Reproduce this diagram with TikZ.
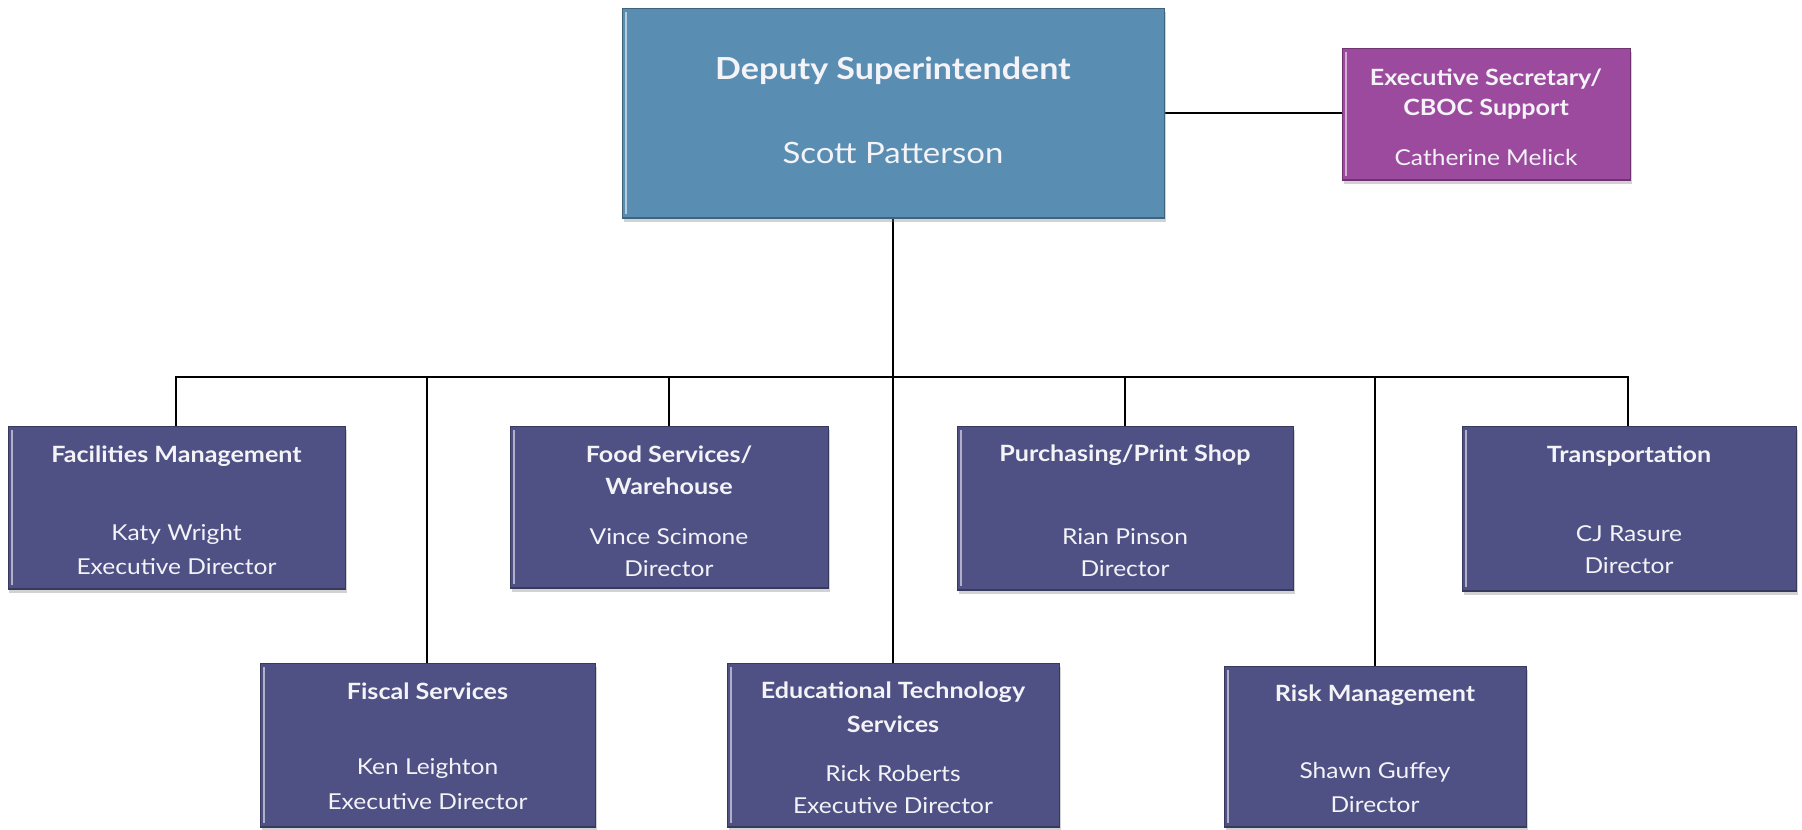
\documentclass[tikz,border=0pt]{standalone}
\usepackage{fontspec}
\setmainfont[FakeStretch=1.12]{Lato}
\usetikzlibrary{calc,shadows}
\definecolor{navy}{HTML}{4F5185}
\definecolor{steel}{HTML}{5A8DB2}
\definecolor{plum}{HTML}{9C4A9E}
\definecolor{txt}{HTML}{F3F3F8}
\tikzset{
  orgbox/.style={fill=#1, draw=#1!70!black, line width=0.8bp, inner sep=0pt,
    drop shadow={shadow xshift=1.5bp, shadow yshift=-4bp, opacity=0.35},
    path picture={
      \draw[line width=2.5bp, #1!45!white] ([xshift=4bp,yshift=-4bp]path picture bounding box.north west) -- ([xshift=4bp,yshift=4bp]path picture bounding box.south west);
      \draw[line width=3bp, #1!70!black] (path picture bounding box.south west) -- (path picture bounding box.south east);
    }},
  ttl/.style={text=txt, font=\bfseries\fontsize{22.5}{26}\selectfont, inner sep=0pt},
  nm/.style={text=txt, font=\fontsize{22}{26}\selectfont, inner sep=0pt},
  conn/.style={draw=black, line width=1.6bp},
}
\begin{document}
\begin{tikzpicture}[x=1bp,y=-1bp]
\useasboundingbox (0,0) rectangle (1802,830);
\fill[white] (0,0) rectangle (1802,830);

\coordinate (bus) at (893,377);

% connectors
\begin{scope}[conn]
\coordinate (depS) at (893,218);
\draw (depS) -- (bus);
\draw (176,426) |- (bus) -| (1628,426);
\draw (669,426) -- (669,377);
\draw (1125,426) -- (1125,377);
\draw (427,663) -- (427,377);
\draw (893,663) -- (893,377);
\draw (1375,666) -- (1375,377);
\draw (1164,113) -- (1342,113);
\end{scope}

% boxes
\node[orgbox=steel, minimum width=542bp, minimum height=210bp] (dep) at (893,113) {};
\node[orgbox=plum, minimum width=288bp, minimum height=132bp] (exe) at (1486,114) {};
\node[orgbox=navy, minimum width=337bp, minimum height=163bp] (fac) at (176.5,507.5) {};
\node[orgbox=navy, minimum width=318bp, minimum height=162bp] (food) at (669,507) {};
\node[orgbox=navy, minimum width=336bp, minimum height=164bp] (pur) at (1125,508) {};
\node[orgbox=navy, minimum width=334bp, minimum height=165bp] (tra) at (1629,508.5) {};
\node[orgbox=navy, minimum width=335bp, minimum height=164bp] (fis) at (427.5,745) {};
\node[orgbox=navy, minimum width=332bp, minimum height=164bp] (edt) at (893,745) {};
\node[orgbox=navy, minimum width=302bp, minimum height=161bp] (rsk) at (1375,746.5) {};

% texts
\node[ttl, font=\bfseries\fontsize{30.5}{36}\selectfont] (depT) at ($(dep.north)+(0,63)$) {Deputy Superintendent};
\node[nm, font=\fontsize{29.5}{34}\selectfont] (depN) at ($(dep.north)+(0,145)$) {Scott Patterson};

\node[ttl] (exeT1) at ($(exe.north)+(0,31)$) {Executive Secretary/};
\node[ttl] (exeT2) at ($(exe.north)+(0,62)$) {CBOC Support};
\node[nm] (exeN) at ($(exe.north)+(0,110)$) {Catherine Melick};

\node[ttl] (facT) at ($(fac.north)+(0,31)$) {Facilities Management};
\node[nm] (facN) at ($(fac.north)+(0,109)$) {Katy Wright};
\node[nm] (facR) at ($(fac.north)+(0,141)$) {Executive Director};

\node[ttl] (foodT1) at ($(food.north)+(0,29)$) {Food Services/};
\node[ttl] (foodT2) at ($(food.north)+(0,61)$) {Warehouse};
\node[nm] (foodN) at ($(food.north)+(0,111)$) {Vince Scimone};
\node[nm] (foodR) at ($(food.north)+(0,143)$) {Director};

\node[ttl] (purT) at ($(pur.north)+(0,30)$) {Purchasing/Print Shop};
\node[nm] (purN) at ($(pur.north)+(0,111)$) {Rian Pinson};
\node[nm] (purR) at ($(pur.north)+(0,143)$) {Director};

\node[ttl] (traT) at ($(tra.north)+(0,30)$) {Transportation};
\node[nm] (traN) at ($(tra.north)+(0,108)$) {CJ Rasure};
\node[nm] (traR) at ($(tra.north)+(0,140)$) {Director};

\node[ttl] (fisT) at ($(fis.north)+(0,29)$) {Fiscal Services};
\node[nm] (fisN) at ($(fis.north)+(0,106)$) {Ken Leighton};
\node[nm] (fisR) at ($(fis.north)+(0,139)$) {Executive Director};

\node[ttl] (edtT1) at ($(edt.north)+(0,30)$) {Educational Technology};
\node[ttl] (edtT2) at ($(edt.north)+(0,62)$) {Services};
\node[nm] (edtN) at ($(edt.north)+(0,111)$) {Rick Roberts};
\node[nm] (edtR) at ($(edt.north)+(0,143)$) {Executive Director};

\node[ttl] (rskT) at ($(rsk.north)+(0,30)$) {Risk Management};
\node[nm] (rskN) at ($(rsk.north)+(0,107)$) {Shawn Guffey};
\node[nm] (rskR) at ($(rsk.north)+(0,139)$) {Director};
\end{tikzpicture}
\end{document}
